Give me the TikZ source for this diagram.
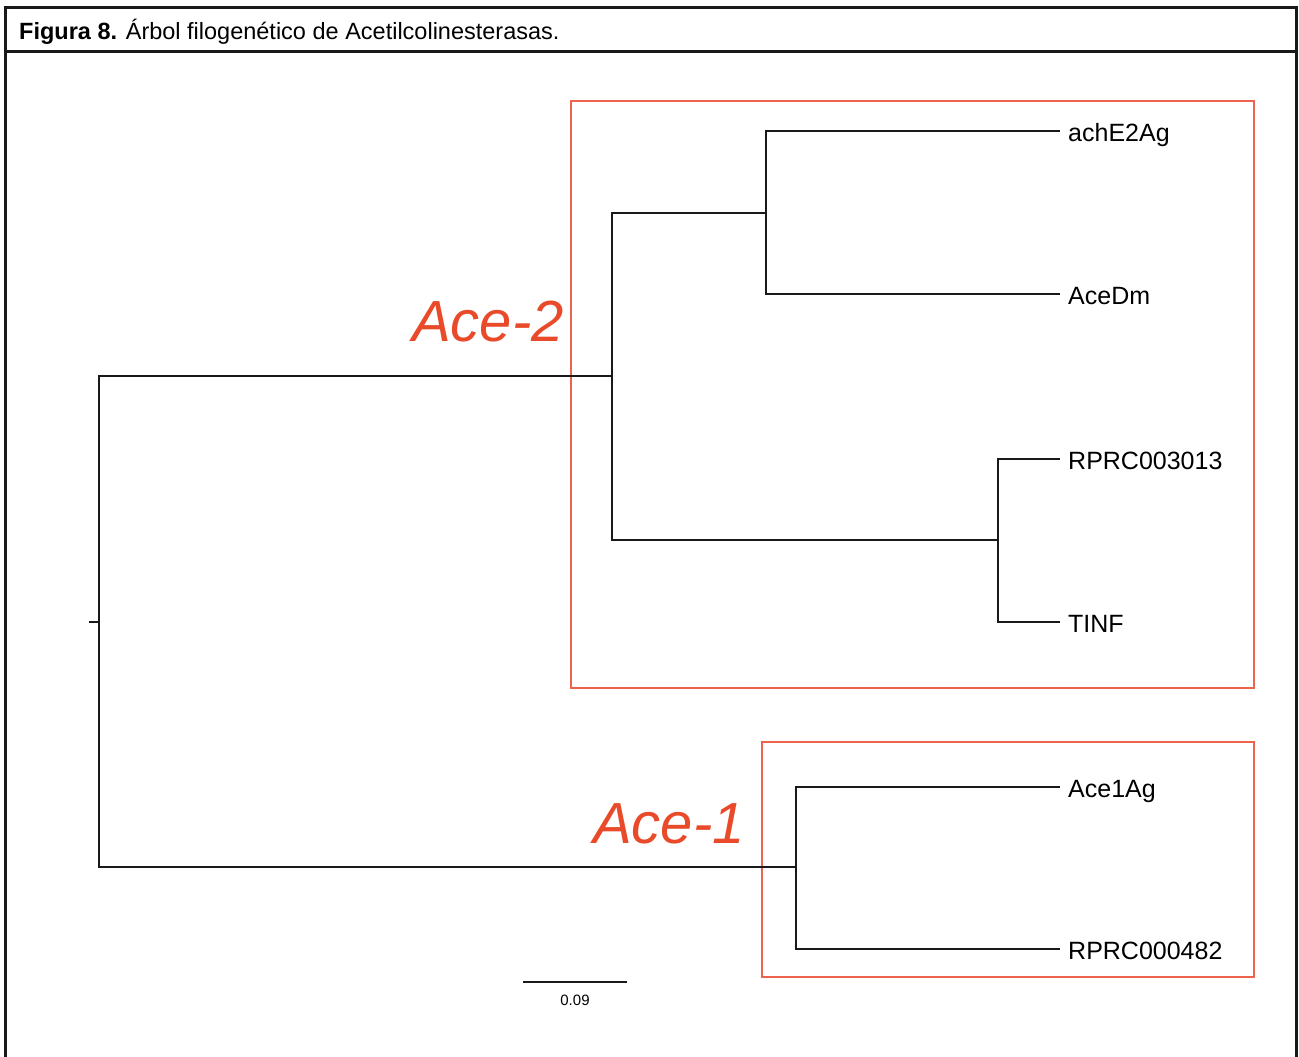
\documentclass[tikz,border=0pt]{standalone}
\usepackage{fontspec}
\setmainfont{Liberation Sans}
\definecolor{clade}{RGB}{232,74,42}
\definecolor{cladebox}{RGB}{236,100,76}
\begin{document}
\begin{tikzpicture}[x=1pt,y=-1pt,
  branch/.style={line width=1.4pt,black!90},
  leaf/.style={anchor=west,inner xsep=8pt,inner ysep=0pt,text height=20pt,text depth=0pt,font=\fontsize{25}{29}\selectfont},
  cladelabel/.style={text=clade,font=\fontsize{58}{64}\selectfont\itshape,inner sep=0pt},
  cladeframe/.style={draw=cladebox,line width=1.4pt},
  frameline/.style={line width=3pt,black!90}]
\useasboundingbox (0,0) rectangle (1299,1057);
\fill[white] (0,0) rectangle (1299,1057);
\clip (0,0) rectangle (1299,1057);

% outer frame and caption bar
\draw[frameline] (5,8) rectangle (1296,1080);
\draw[frameline] (5,52) -- (1296,52);
\node[anchor=west,inner sep=0pt,font=\fontsize{23.5}{27}\selectfont] (caption) at (19,32)
  {\textbf{Figura 8.} Árbol filogenético de Acetilcolinesterasas.};

% clade boxes
\draw[cladeframe] (571,101) rectangle (1254,688);
\draw[cladeframe] (762,742) rectangle (1254,977);
\node[cladelabel] (ace2) at (488,322) {Ace-2};
\node[cladelabel] (ace1) at (669,824) {Ace-1};

% internal nodes
\coordinate (root) at (99,622);
\coordinate (rootstub) at (89,622);
\coordinate (a2) at (612,376);
\coordinate (e2) at (766,213);
\coordinate (rp) at (998,540);
\coordinate (a1) at (796,867);

% leaves
\node[leaf] (achE2Ag) at (1060,131) {achE2Ag};
\node[leaf] (AceDm) at (1060,294) {AceDm};
\node[leaf] (RPRC003013) at (1060,459) {RPRC003013};
\node[leaf] (TINF) at (1060,622) {TINF};
\node[leaf] (Ace1Ag) at (1060,787) {Ace1Ag};
\node[leaf] (RPRC000482) at (1060,949) {RPRC000482};

% branches
\draw[branch] (rootstub) -- (root);
\draw[branch] (root) |- (a2);
\draw[branch] (root) |- (a1);
\draw[branch] (a2) |- (e2);
\draw[branch] (a2) |- (rp);
\draw[branch] (e2) |- (achE2Ag.west);
\draw[branch] (e2) |- (AceDm.west);
\draw[branch] (rp) |- (RPRC003013.west);
\draw[branch] (rp) |- (TINF.west);
\draw[branch] (a1) |- (Ace1Ag.west);
\draw[branch] (a1) |- (RPRC000482.west);

% scale bar
\coordinate (sbl) at (523,982);
\coordinate (sbr) at (627,982);
\draw[branch] (sbl) -- (sbr);
\node[font=\fontsize{15}{18}\selectfont,inner sep=0pt] (sblabel) at (575,1000) {0.09};
\end{tikzpicture}
\end{document}
